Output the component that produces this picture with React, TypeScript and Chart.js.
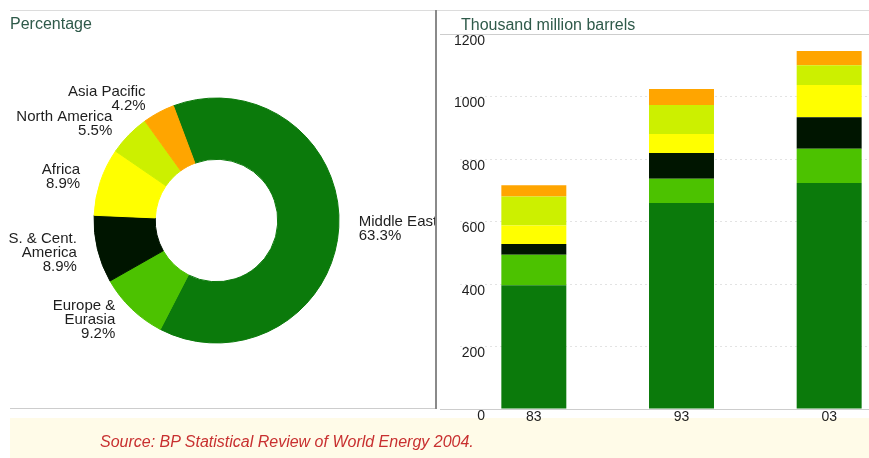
import React, { useEffect, useRef } from 'react';
import { Chart, registerables } from 'chart.js';

Chart.register(...registerables);

// ---------- data ----------
const regions = ['Middle East', 'Europe &\nEurasia', 'S. & Cent.\nAmerica', 'Africa', 'North America', 'Asia Pacific'];
const shares = [63.3, 9.2, 8.9, 8.9, 5.5, 4.2];
const regionColors = ['#0b7a0b', '#4cc200', '#001500', '#ffff00', '#ccf000', '#ffa500'];

const years = ['83', '93', '03'];
const middleEast = [396, 659, 723];
const europeEurasia = [98, 78, 110];
const southCentralAmerica = [34, 82, 101];
const africa = [59, 61, 103];
const northAmerica = [93, 93, 63];
const asiaPacific = [36, 51, 46];
const barSeries = [middleEast, europeEurasia, southCentralAmerica, africa, northAmerica, asiaPacific];

const yMin = 0;
const yMax = 1200;
const yStep = 200;

const FONT = '"Liberation Sans", Arial, Helvetica, sans-serif';

Chart.defaults.font.family = FONT;

const donutLabels = {
  id: 'donutLabels',
  afterDatasetsDraw(chart: any) {
    const ctx = chart.ctx;
    const meta = chart.getDatasetMeta(0);
    ctx.save();
    ctx.font = `15px ${FONT}`;
    ctx.fillStyle = '#1e1e1e';
    ctx.textBaseline = 'middle';
    meta.data.forEach((arc: any, i: number) => {
      const p = arc.getProps(['x', 'y', 'startAngle', 'endAngle', 'outerRadius'], true);
      const mid = (p.startAngle + p.endAngle) / 2;
      const R = p.outerRadius + 15;
      const ax = p.x + Math.cos(mid) * R;
      const ay = p.y + Math.sin(mid) * R;
      const lines = [...regions[i].split('\n'), shares[i].toFixed(1) + '%'];
      const onRight = Math.cos(mid) >= 0;
      ctx.textAlign = onRight ? 'left' : 'right';
      const tx = onRight ? ax + 5 : ax - 6;
      const lh = 14;
      const y0 = ay - ((lines.length - 1) * lh) / 2;
      lines.forEach((l, k) => ctx.fillText(l, tx, y0 + k * lh));
    });
    ctx.restore();
  },
};

const isEdge = (v: number) => v === yMin || v === yMax;

export default function App() {
  const donutRef = useRef<HTMLCanvasElement>(null);
  const barRef = useRef<HTMLCanvasElement>(null);

  useEffect(() => {
    const donut = new Chart(donutRef.current!, {
      type: 'doughnut',
      data: {
        labels: regions,
        datasets: [
          {
            data: shares,
            backgroundColor: regionColors,
            borderColor: regionColors,
            borderWidth: 1,
          },
        ],
      },
      options: {
        responsive: false,
        animation: false,
        devicePixelRatio: 1,
        rotation: -20.6,
        cutout: '50%',
        layout: { padding: { left: 93.5, right: 95.5, top: 97.5, bottom: 96.5 } },
        plugins: { legend: { display: false }, tooltip: { enabled: false } },
      },
      plugins: [donutLabels],
    } as any);

    const bar = new Chart(barRef.current!, {
      type: 'bar',
      data: {
        labels: years,
        datasets: barSeries.map((s, i) => ({
          label: regions[i].replace('\n', ' '),
          data: s,
          backgroundColor: regionColors[i],
          borderWidth: 0,
          categoryPercentage: 1,
          barPercentage: 0.44,
        })),
      },
      options: {
        responsive: false,
        animation: false,
        devicePixelRatio: 1,
        layout: { padding: { top: 34, left: 0, right: 0, bottom: 0 } },
        plugins: { legend: { display: false }, tooltip: { enabled: false } },
        scales: {
          x: {
            stacked: true,
            grid: { display: false, drawTicks: false },
            border: { display: false },
            ticks: { color: '#1e1e1e', font: { size: 14 }, padding: 0 },
            afterFit: (s: any) => {
              s.height = 20;
              s.paddingLeft = 0;
              s.paddingRight = 0;
            },
          },
          y: {
            stacked: true,
            min: yMin,
            max: yMax,
            ticks: {
              stepSize: yStep,
              mirror: true,
              crossAlign: 'far',
              padding: -6,
              labelOffset: 7,
              color: '#1e1e1e',
              font: { size: 14 },
              callback: (v: any) => String(v),
            },
            grid: {
              color: (c: any) => (isEdge(c.tick.value) ? '#cdcdcd' : '#e3e3e3'),
              tickColor: (c: any) => (isEdge(c.tick.value) ? '#cdcdcd' : 'rgba(0,0,0,0)'),
              drawTicks: true,
              tickLength: 20,
              lineWidth: 1,
            },
            border: {
              display: false,
              dash: (c: any) => (isEdge(c.tick.value) ? [] : [2, 3]),
            },
            afterFit: (s: any) => {
              s.width = 20;
              s.paddingTop = 0;
              s.paddingBottom = 0;
            },
          },
        },
      },
    } as any);

    return () => {
      donut.destroy();
      bar.destroy();
    };
  }, []);

  const line = (style: React.CSSProperties) => <div style={{ position: 'absolute', ...style }} />;

  return (
    <div
      style={{
        position: 'absolute',
        left: 0,
        top: 0,
        width: 869,
        height: 458,
        overflow: 'hidden',
        background: '#ffffff',
        fontFamily: FONT,
      }}
    >
      {/* source band */}
      {line({ left: 10, top: 418, width: 859, height: 40, background: '#fffbe8' })}
      {/* frame lines */}
      {line({ left: 10, top: 10, width: 859, height: 1, background: '#dcdcdc' })}
      {line({ left: 10, top: 408, width: 427, height: 1, background: '#cdcdcd' })}
      {line({ left: 435, top: 10, width: 2, height: 399, background: '#8a8a8a' })}

      <canvas ref={donutRef} width={435} height={440} style={{ position: 'absolute', left: 0, top: 0 }} />

      <div style={{ position: 'absolute', left: 440, top: 0, width: 429, height: 458, overflow: 'hidden' }}>
        <canvas ref={barRef} width={463} height={429} style={{ position: 'absolute', left: 0, top: 0 }} />
      </div>

      <div style={{ position: 'absolute', left: 10, top: 14, fontSize: 16, color: '#2f5a4a', lineHeight: '20px' }}>
        Percentage
      </div>
      <div style={{ position: 'absolute', left: 461, top: 15, fontSize: 16, color: '#2f5a4a', lineHeight: '20px' }}>
        Thousand million barrels
      </div>
      <div
        style={{
          position: 'absolute',
          left: 100,
          top: 432,
          fontSize: 16,
          fontStyle: 'italic',
          color: '#c83030',
          lineHeight: '20px',
          whiteSpace: 'nowrap',
        }}
      >
        Source: BP Statistical Review of World Energy 2004.
      </div>
    </div>
  );
}
